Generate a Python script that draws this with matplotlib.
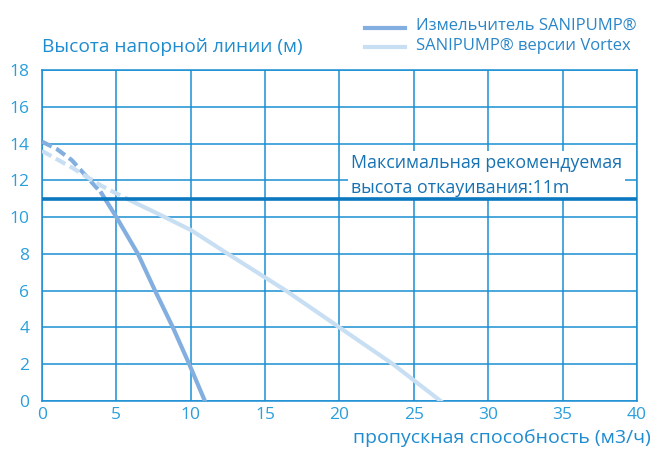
import matplotlib
matplotlib.use('Agg')
import matplotlib.pyplot as plt

# Измельчитель SANIPUMP (пунктир до ~4 м3/ч, дальше сплошная)
grinder_dash_x = [0, 1, 2, 3, 4]
grinder_dash_y = [14.1, 13.7, 13.1, 12.2, 11.3]
grinder_x = [4, 5, 6.45, 7.6, 8.8, 9.9, 10.95]
grinder_y = [11.3, 10.0, 8.0, 6.0, 4.0, 2.0, 0.0]

# SANIPUMP версии Vortex
vortex_dash_x = [0, 2, 3, 4, 5.7]
vortex_dash_y = [13.6, 12.7, 12.2, 11.7, 11.0]
vortex_x = [5.7, 8, 10, 12.5, 16.4, 20, 23.6, 26.8]
vortex_y = [11.0, 10.1, 9.3, 8.0, 6.0, 4.0, 2.0, 0.0]

max_height = 11
x_ticks = [0, 5, 10, 15, 20, 25, 30, 35, 40]
y_ticks = [0, 2, 4, 6, 8, 10, 12, 14, 16, 18]

plt.rcParams['font.family'] = ['Open Sans', 'DejaVu Sans']

grid_color = '#1b8fd3'
label_color = '#2a9fdc'
dark_curve = '#82afdf'
light_curve = '#c8dff3'
hline_color = '#0b78c0'

fig = plt.figure(figsize=(6.52, 4.49), dpi=100)
ax = fig.add_axes([42 / 652, 48 / 449, 595 / 652, 331 / 449])

ax.plot(grinder_dash_x, grinder_dash_y, color=dark_curve, lw=3, ls=(0, (2.6, 1.2)), zorder=3)
ax.plot(grinder_x, grinder_y, color=dark_curve, lw=3, zorder=3)
ax.plot(vortex_dash_x, vortex_dash_y, color=light_curve, lw=3, ls=(0, (2.6, 1.2)), zorder=3)
ax.plot(vortex_x, vortex_y, color=light_curve, lw=3, zorder=3)

ax.axhline(max_height, color=hline_color, lw=2.6, zorder=6)
ax.text(20.75, 11.12, 'Максимальная рекомендуемая\nвысота откауивания:11m',
        color='#1672b3', fontsize=12.8, ha='left', va='bottom', linespacing=1.45, zorder=5,
        bbox=dict(facecolor='white', edgecolor='none', pad=2))

ax.set_xlim(0, 40)
ax.set_ylim(0, 18)
ax.set_xticks(x_ticks)
ax.set_yticks(y_ticks)
ax.grid(True, color=grid_color, lw=1.1)
ax.set_axisbelow(True)
for s in ax.spines.values():
    s.set_color(grid_color)
    s.set_linewidth(1.1)
ax.tick_params(length=0, colors=label_color, labelsize=12.5)
ax.tick_params(axis='y', pad=9)
ax.tick_params(axis='x', pad=4)

fig.text(42 / 652, 1 - 47 / 449, 'Высота напорной линии (м)', color='#1e8ccf',
         fontsize=13.8, ha='left', va='center')
fig.text(651 / 652, 1 - 438 / 449, 'пропускная способность (м3/ч)', color='#1e8ccf',
         fontsize=14, ha='right', va='center')

# легенда
fig.add_artist(plt.Line2D([365 / 652, 405 / 652], [1 - 28 / 449] * 2, color=dark_curve, lw=3,
                          transform=fig.transFigure))
fig.add_artist(plt.Line2D([365 / 652, 405 / 652], [1 - 47 / 449] * 2, color=light_curve, lw=3,
                          transform=fig.transFigure))
fig.text(416 / 652, 1 - 26 / 449, 'Измельчитель SANIPUMP®', color='#2a86c8',
         fontsize=12, ha='left', va='center')
fig.text(416 / 652, 1 - 46 / 449, 'SANIPUMP® версии Vortex', color='#2a86c8',
         fontsize=12, ha='left', va='center')

fig.savefig('out.png', dpi=100)
